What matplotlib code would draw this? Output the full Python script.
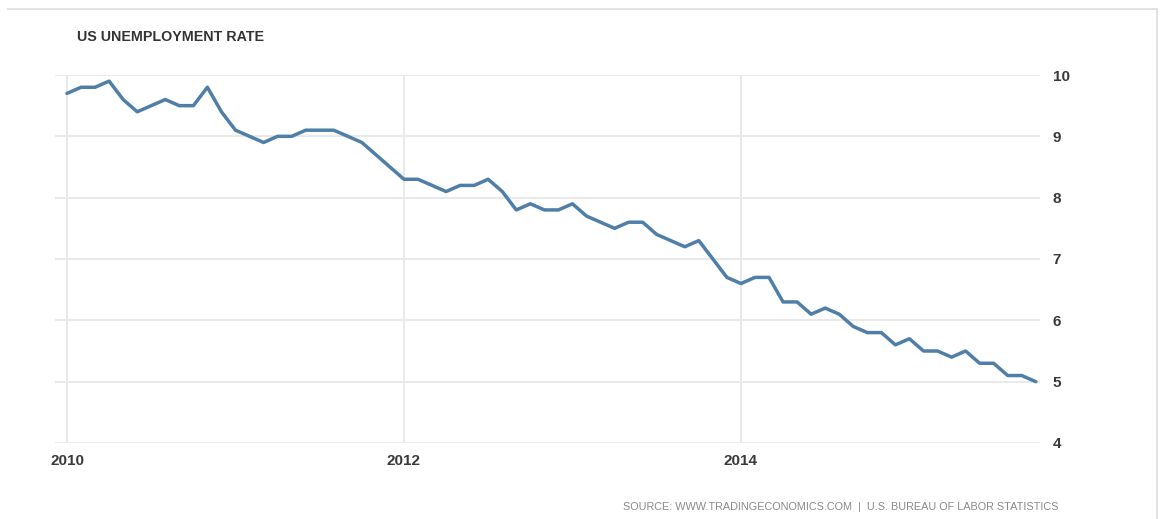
import matplotlib
matplotlib.use("Agg")
import matplotlib.pyplot as plt
from matplotlib.lines import Line2D

# Monthly US unemployment rate, Jan 2010 .. Oct 2015
rate_2010 = [9.7, 9.8, 9.8, 9.9, 9.6, 9.4, 9.5, 9.6, 9.5, 9.5, 9.8, 9.4]
rate_2011 = [9.1, 9.0, 8.9, 9.0, 9.0, 9.1, 9.1, 9.1, 9.0, 8.9, 8.7, 8.5]
rate_2012 = [8.3, 8.3, 8.2, 8.1, 8.2, 8.2, 8.3, 8.1, 7.8, 7.9, 7.8, 7.8]
rate_2013 = [7.9, 7.7, 7.6, 7.5, 7.6, 7.6, 7.4, 7.3, 7.2, 7.3, 7.0, 6.7]
rate_2014 = [6.6, 6.7, 6.7, 6.3, 6.3, 6.1, 6.2, 6.1, 5.9, 5.8, 5.8, 5.6]
rate_2015 = [5.7, 5.5, 5.5, 5.4, 5.5, 5.3, 5.3, 5.1, 5.1, 5.0]

rates = rate_2010 + rate_2011 + rate_2012 + rate_2013 + rate_2014 + rate_2015
months = list(range(len(rates)))  # months since Jan 2010

x_tick_months = [0, 24, 48]
x_tick_labels = ["2010", "2012", "2014"]
y_ticks = [4, 5, 6, 7, 8, 9, 10]

plt.rcParams["font.family"] = ["Liberation Sans", "DejaVu Sans"]

W, H = 1162, 519
fig = plt.figure(figsize=(W / 100, H / 100), dpi=100)
fig.patch.set_facecolor("white")

left_px, right_px, top_px, bot_px = 55, 1040, 75, 443
ax = fig.add_axes([left_px / W, 1 - bot_px / H,
                   (right_px - left_px) / W, (bot_px - top_px) / H])
ax.set_facecolor("white")

ax.plot(months, rates, color="#4f7fa8", lw=2.5, solid_joinstyle="round",
        solid_capstyle="round", clip_on=False, zorder=3)

ax.set_xlim(-0.855, 69.3)
ax.set_ylim(4, 10)

ax.set_xticks(x_tick_months)
ax.set_xticklabels(x_tick_labels)
ax.set_yticks(y_ticks)
ax.set_yticklabels([str(v) for v in y_ticks])
ax.yaxis.tick_right()

ax.tick_params(axis="both", length=0, labelsize=11, labelcolor="#3a3a3a")
ax.tick_params(axis="y", pad=9)
ax.tick_params(axis="x", pad=8)
for lab in ax.get_xticklabels() + ax.get_yticklabels():
    lab.set_fontweight("bold")

ax.grid(True, color="#e9e9e9", lw=1.4, zorder=0)
for s in ax.spines.values():
    s.set_visible(False)

fig.text(77 / W, 1 - 37 / H, "US UNEMPLOYMENT RATE", fontsize=10.3,
         fontweight="bold", color="#333333", ha="left", va="center")

fig.text(1058 / W, 1 - 507 / H,
         "SOURCE: WWW.TRADINGECONOMICS.COM  |  U.S. BUREAU OF LABOR STATISTICS",
         fontsize=7.8, color="#8a8a8a", ha="right", va="center")

# light frame lines (top and right)
fig.add_artist(Line2D([8 / W, 1157 / W], [1 - 9 / H, 1 - 9 / H],
                      transform=fig.transFigure, color="#dddddd", lw=1.2))
fig.add_artist(Line2D([1157 / W, 1157 / W], [1 - 9 / H, 0],
                      transform=fig.transFigure, color="#dddddd", lw=1.2))

fig.savefig("out.png", dpi=100, facecolor="white")
